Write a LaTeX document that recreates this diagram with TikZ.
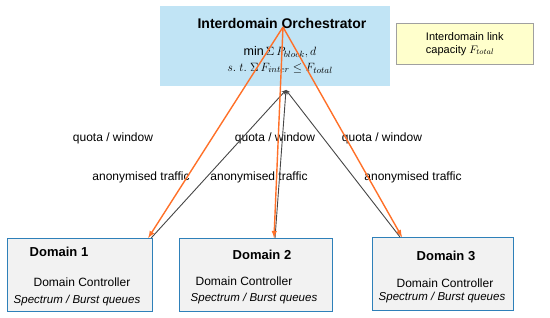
\documentclass[tikz,border=0pt]{standalone}
\usepackage{fontspec}
\setmainfont{Liberation Sans}
\usepackage{xcolor}
\usepackage{tikz}
\usetikzlibrary{arrows, positioning, calc}
\definecolor{orchblue}{RGB}{193, 228, 245}
\definecolor{capyellow}{RGB}{255, 255, 204}
\definecolor{capgray}{RGB}{160, 160, 160}
\definecolor{domainblue}{RGB}{46, 128, 185}
\definecolor{domainfill}{RGB}{242, 242, 242}
\definecolor{quotaorange}{RGB}{255, 112, 40}
\definecolor{trafficgray}{RGB}{70, 70, 70}

\begin{document}
\begin{tikzpicture}[x=1pt, y=-1pt, font=\fontsize{12}{14}\selectfont]
    \useasboundingbox (0,0) rectangle (550,318);

    % orchestrator and capacity note
    \node[fill=orchblue, anchor=north west, minimum width=230pt, minimum height=80pt] (orch) at (160,6) {};
    \node[font=\fontsize{14}{16}\selectfont\bfseries] (title) at (282,23) {Interdomain Orchestrator};
    \node[font=\fontsize{12.5}{15}\selectfont] (objective) at (280,52) {$\min \Sigma\, P_{block}, d$};
    \node[font=\fontsize{13}{15}\selectfont] (constraint) at (280,68) {$s.\;t.\;\Sigma\, F_{inter} \leq F_{total}$};
    \node[fill=capyellow, draw=capgray, line width=0.6pt, anchor=north west,
          minimum width=137pt, minimum height=41pt, align=left,
          font=\fontsize{11}{13}\selectfont] (cap) at (396,23) {Interdomain link\\capacity $F_{total}$};

    % domains
    \node[draw=domainblue, fill=domainfill, line width=1.2pt, anchor=north west,
          minimum width=145pt, minimum height=73pt] (dom1) at (7,238) {};
    \node[draw=domainblue, fill=domainfill, line width=1.2pt, anchor=north west,
          minimum width=153pt, minimum height=73pt] (dom2) at (179,238) {};
    \node[draw=domainblue, fill=domainfill, line width=1.2pt, anchor=north west,
          minimum width=141pt, minimum height=73pt] (dom3) at (372,237) {};

    \node[font=\fontsize{13}{15}\selectfont\bfseries] (name1) at (59,252) {Domain 1};
    \node (ctrl1) at (82,282) {Domain Controller};
    \node[font=\fontsize{11.5}{14}\selectfont\itshape] (queue1) at (77,301) {Spectrum / Burst queues};
    \node[font=\fontsize{13}{15}\selectfont\bfseries] (name2) at (262,255) {Domain 2};
    \node (ctrl2) at (244,281) {Domain Controller};
    \node[font=\fontsize{11.5}{14}\selectfont\itshape] (queue2) at (254,299) {Spectrum / Burst queues};
    \node[font=\fontsize{13}{15}\selectfont\bfseries] (name3) at (446,256) {Domain 3};
    \node (ctrl3) at (445,283) {Domain Controller};
    \node[font=\fontsize{11.5}{14}\selectfont\itshape] (queue3) at (442,298) {Spectrum / Burst queues};

    % labels
    \node (quota1) at (113,138) {quota / window};
    \node (quota2) at (275,138) {quota / window};
    \node (quota3) at (382,138) {quota / window};
    \node (anon1) at (141,177) {anonymised traffic};
    \node (anon2) at (259,177) {anonymised traffic};
    \node (anon3) at (413,177) {anonymised traffic};

    % links
    \coordinate (apex) at (283,27);
    \coordinate (hub) at (286,90);
    \draw[trafficgray, line width=0.9pt, -stealth] ([xshift=-2pt]dom1.north east) -- (hub);
    \draw[trafficgray, line width=0.9pt, -stealth] ([xshift=96pt]dom2.north west) -- (hub);
    \draw[trafficgray, line width=0.9pt, -stealth] ([xshift=28pt]dom3.north west) -- (hub);
    \draw[quotaorange, line width=1.4pt, -latex] (apex) -- ([xshift=-5pt]dom1.north east);
    \draw[quotaorange, line width=1.4pt, -latex] (apex) -- ([xshift=95pt]dom2.north west);
    \draw[quotaorange, line width=1.4pt, -latex] (apex) -- ([xshift=30pt]dom3.north west);
\end{tikzpicture}
\end{document}
